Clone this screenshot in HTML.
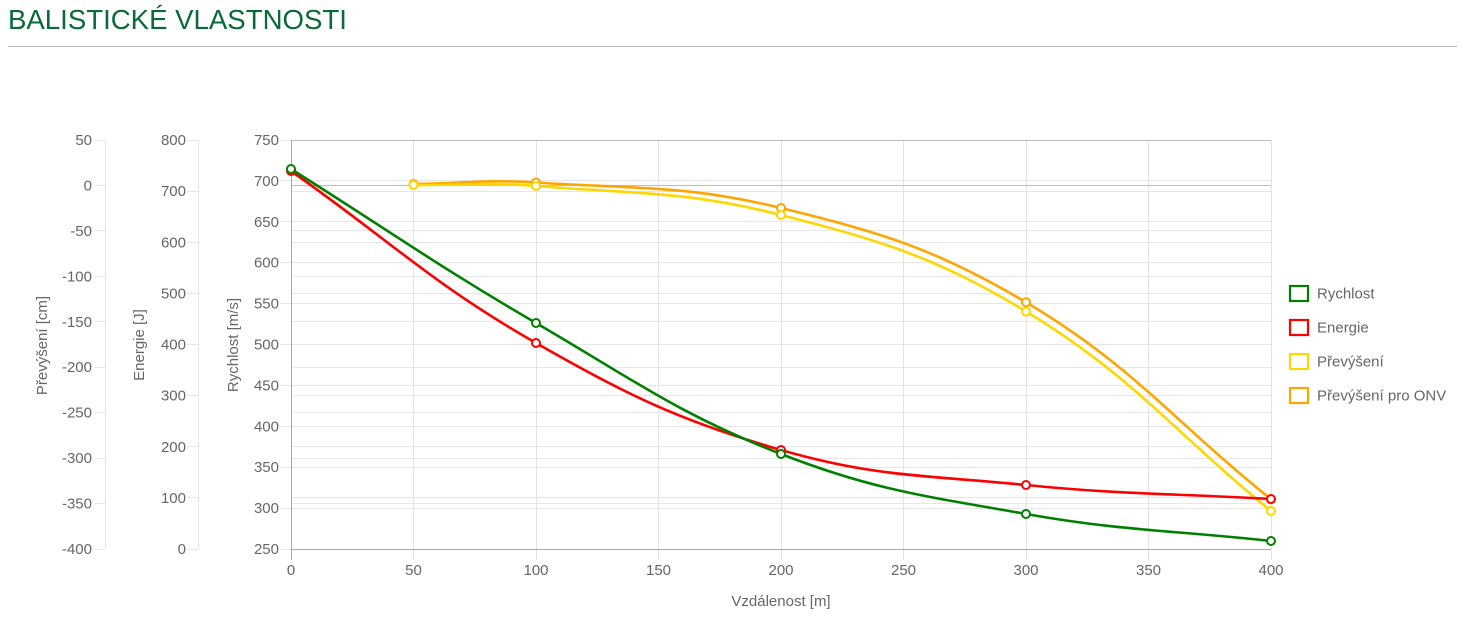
<!DOCTYPE html>
<html><head><meta charset="utf-8"><style>
html,body{margin:0;padding:0;background:#fff;width:1461px;height:623px;overflow:hidden}
svg{display:block}
text{font-family:"Liberation Sans",Arial,sans-serif}
</style></head><body>
<svg width="1461" height="623" viewBox="0 0 1461 623" xmlns="http://www.w3.org/2000/svg">
<text x="8" y="29" font-size="27.6" fill="#0a6a38">BALISTICKÉ VLASTNOSTI</text>
<rect x="8" y="46" width="1449" height="1" fill="#bdbdbd"/>

<!-- vertical grid (x axis) -->
<g stroke="#e3e3e3" stroke-width="1">
<line x1="413.5" y1="140" x2="413.5" y2="560"/>
<line x1="536.5" y1="140" x2="536.5" y2="560"/>
<line x1="658.5" y1="140" x2="658.5" y2="560"/>
<line x1="781.5" y1="140" x2="781.5" y2="560"/>
<line x1="903.5" y1="140" x2="903.5" y2="560"/>
<line x1="1026.5" y1="140" x2="1026.5" y2="560"/>
<line x1="1148.5" y1="140" x2="1148.5" y2="560"/>
<line x1="1271.5" y1="140" x2="1271.5" y2="560"/>
</g>
<!-- horizontal grid: velocity -->
<g stroke="#e6e6e6" stroke-width="1">
<line x1="280" y1="180.5" x2="1271" y2="180.5"/>
<line x1="280" y1="221.5" x2="1271" y2="221.5"/>
<line x1="280" y1="262.5" x2="1271" y2="262.5"/>
<line x1="280" y1="303.5" x2="1271" y2="303.5"/>
<line x1="280" y1="344.5" x2="1271" y2="344.5"/>
<line x1="280" y1="385.5" x2="1271" y2="385.5"/>
<line x1="280" y1="426.5" x2="1271" y2="426.5"/>
<line x1="280" y1="467.5" x2="1271" y2="467.5"/>
<line x1="280" y1="508.5" x2="1271" y2="508.5"/>
<line x1="280" y1="140.5" x2="291" y2="140.5"/>
<line x1="280" y1="549.5" x2="291" y2="549.5"/>
<!-- energy -->
<line x1="291" y1="191.5" x2="1271" y2="191.5"/>
<line x1="291" y1="242.5" x2="1271" y2="242.5"/>
<line x1="291" y1="293.5" x2="1271" y2="293.5"/>
<line x1="291" y1="395.5" x2="1271" y2="395.5"/>
<line x1="291" y1="446.5" x2="1271" y2="446.5"/>
<line x1="291" y1="497.5" x2="1271" y2="497.5"/>
<!-- prevyseni -->
<line x1="291" y1="230.5" x2="1271" y2="230.5"/>
<line x1="291" y1="276.5" x2="1271" y2="276.5"/>
<line x1="291" y1="321.5" x2="1271" y2="321.5"/>
<line x1="291" y1="367.5" x2="1271" y2="367.5"/>
<line x1="291" y1="412.5" x2="1271" y2="412.5"/>
<line x1="291" y1="458.5" x2="1271" y2="458.5"/>
<line x1="291" y1="503.5" x2="1271" y2="503.5"/>
<!-- energy axis ticks & line -->
<line x1="198.5" y1="140" x2="198.5" y2="549"/>
<line x1="187" y1="140.5" x2="198" y2="140.5"/>
<line x1="187" y1="191.5" x2="198" y2="191.5"/>
<line x1="187" y1="242.5" x2="198" y2="242.5"/>
<line x1="187" y1="293.5" x2="198" y2="293.5"/>
<line x1="187" y1="344.5" x2="198" y2="344.5"/>
<line x1="187" y1="395.5" x2="198" y2="395.5"/>
<line x1="187" y1="446.5" x2="198" y2="446.5"/>
<line x1="187" y1="497.5" x2="198" y2="497.5"/>
<line x1="187" y1="549.5" x2="198" y2="549.5"/>
<!-- prevyseni axis ticks & line -->
<line x1="105.5" y1="140" x2="105.5" y2="549"/>
<line x1="95" y1="140.5" x2="105" y2="140.5"/>
<line x1="95" y1="185.5" x2="105" y2="185.5"/>
<line x1="95" y1="230.5" x2="105" y2="230.5"/>
<line x1="95" y1="276.5" x2="105" y2="276.5"/>
<line x1="95" y1="321.5" x2="105" y2="321.5"/>
<line x1="95" y1="367.5" x2="105" y2="367.5"/>
<line x1="95" y1="412.5" x2="105" y2="412.5"/>
<line x1="95" y1="458.5" x2="105" y2="458.5"/>
<line x1="95" y1="503.5" x2="105" y2="503.5"/>
<line x1="95" y1="549.5" x2="105" y2="549.5"/>
</g>
<!-- darker lines -->
<g stroke="#bdbdbd" stroke-width="1">
<line x1="291" y1="185.5" x2="1271" y2="185.5"/>
<line x1="291" y1="140.5" x2="1271" y2="140.5"/>
</g>
<g stroke="#a8a8a8" stroke-width="1">
<line x1="291.5" y1="140" x2="291.5" y2="560"/>
<line x1="291" y1="549.5" x2="1271" y2="549.5"/>
</g>

<!-- tick labels -->
<g font-size="15" fill="#666" text-anchor="end">
<text x="92" y="145">50</text>
<text x="92" y="190.4">0</text>
<text x="92" y="235.9">-50</text>
<text x="92" y="281.3">-100</text>
<text x="92" y="326.8">-150</text>
<text x="92" y="372.2">-200</text>
<text x="92" y="417.7">-250</text>
<text x="92" y="463.1">-300</text>
<text x="92" y="508.6">-350</text>
<text x="92" y="554">-400</text>

<text x="186" y="145">800</text>
<text x="186" y="196.1">700</text>
<text x="186" y="247.3">600</text>
<text x="186" y="298.4">500</text>
<text x="186" y="349.5">400</text>
<text x="186" y="400.6">300</text>
<text x="186" y="451.8">200</text>
<text x="186" y="502.9">100</text>
<text x="186" y="554">0</text>

<text x="279" y="145">750</text>
<text x="279" y="185.9">700</text>
<text x="279" y="226.8">650</text>
<text x="279" y="267.7">600</text>
<text x="279" y="308.6">550</text>
<text x="279" y="349.5">500</text>
<text x="279" y="390.4">450</text>
<text x="279" y="431.3">400</text>
<text x="279" y="472.2">350</text>
<text x="279" y="513.1">300</text>
<text x="279" y="554">250</text>
</g>
<g font-size="15" fill="#666" text-anchor="middle">
<text x="291" y="575">0</text>
<text x="413.5" y="575">50</text>
<text x="536" y="575">100</text>
<text x="658.5" y="575">150</text>
<text x="781" y="575">200</text>
<text x="903.5" y="575">250</text>
<text x="1026" y="575">300</text>
<text x="1148.5" y="575">350</text>
<text x="1271" y="575">400</text>
<text x="781" y="606">Vzdálenost [m]</text>
<text transform="translate(47,345.5) rotate(-90)">Převýšení [cm]</text>
<text transform="translate(144,345) rotate(-90)">Energie [J]</text>
<text transform="translate(238,345) rotate(-90)">Rychlost [m/s]</text>
</g>

<!-- series (drawn last dataset first) -->
<g fill="none" stroke-width="2.6" stroke-linejoin="round">
<path stroke="#ffa500" d="M413.5,184 C462.5,183.4 487.2,179.3 536,182.5 C634.2,188.9 686.1,184.8 781,208 C882.1,232.7 936.8,249.3 1026,302.3 C1132.8,365.8 1173,420.5 1271,499.3"/>
<path stroke="#ffd700" d="M413.5,185 C462.5,185.4 487.2,182 536,186 C634.2,194 686.2,190.7 781,215 C882.2,240.9 936.9,257.7 1026,311.5 C1132.9,376.1 1173,431.2 1271,511"/>
<path stroke="#ff0000" d="M291,171 C389,239.8 432.5,284.1 536,343 C628.5,395.7 679.2,420.5 781,450 C875.2,477.3 927.6,475.2 1026,485 C1123.6,494.8 1173,493.4 1271,499"/>
<path stroke="#008000" d="M291,169 C389,230.6 436,264.9 536,323 C632,378.9 678.3,414 781,454 C874.3,490.4 926.9,496.4 1026,514 C1122.9,531.2 1173,530.2 1271,541"/>
</g>
<g fill="#fff" stroke-width="2">
<g stroke="#ffa500">
<circle cx="413.5" cy="184" r="4"/><circle cx="536" cy="182.5" r="4"/><circle cx="781" cy="208" r="4"/><circle cx="1026" cy="302.3" r="4"/><circle cx="1271" cy="499.3" r="4"/>
</g>
<g stroke="#ffd700">
<circle cx="413.5" cy="185" r="4"/><circle cx="536" cy="186" r="4"/><circle cx="781" cy="215" r="4"/><circle cx="1026" cy="311.5" r="4"/><circle cx="1271" cy="511" r="4"/>
</g>
<g stroke="#ff0000">
<circle cx="291" cy="171" r="4"/><circle cx="536" cy="343" r="4"/><circle cx="781" cy="450" r="4"/><circle cx="1026" cy="485" r="4"/><circle cx="1271" cy="499" r="4"/>
</g>
<g stroke="#008000">
<circle cx="291" cy="169" r="4"/><circle cx="536" cy="323" r="4"/><circle cx="781" cy="454" r="4"/><circle cx="1026" cy="514" r="4"/><circle cx="1271" cy="541" r="4"/>
</g>
</g>

<!-- legend -->
<g fill="#fff" stroke-width="2.2">
<rect x="1290" y="286" width="18" height="15" stroke="#008000"/>
<rect x="1290" y="320" width="18" height="15" stroke="#ff0000"/>
<rect x="1290" y="354" width="18" height="15" stroke="#ffd700"/>
<rect x="1290" y="388" width="18" height="15" stroke="#ffa500"/>
</g>
<g font-size="15" fill="#666">
<text x="1317" y="298.5">Rychlost</text>
<text x="1317" y="332.5">Energie</text>
<text x="1317" y="366.5">Převýšení</text>
<text x="1317" y="400.5">Převýšení pro ONV</text>
</g>
</svg>
</body></html>
